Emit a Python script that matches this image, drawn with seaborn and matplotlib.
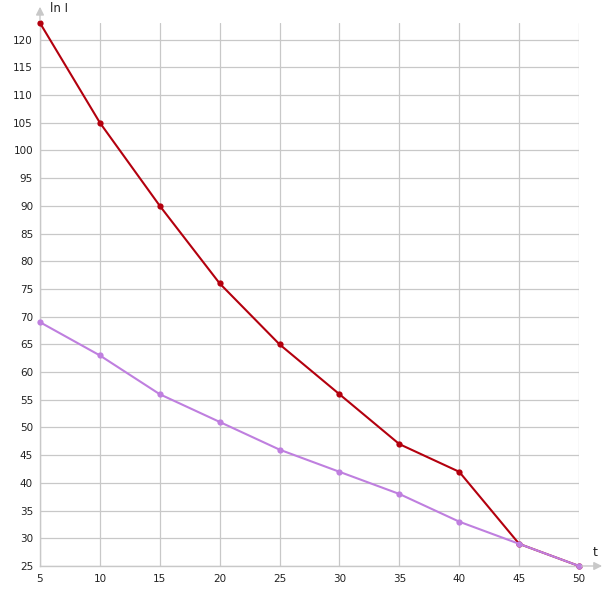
import numpy as np
import pandas as pd
import matplotlib
matplotlib.use("Agg")
import matplotlib.pyplot as plt
import seaborn as sns

t = [5, 10, 15, 20, 25, 30, 35, 40, 45, 50]
ln_i_red = [123, 105, 90, 76, 65, 56, 47, 42, 29, 25]
ln_i_purple = [69, 63, 56, 51, 46, 42, 38, 33, 29, 25]
x_ticks = [5, 10, 15, 20, 25, 30, 35, 40, 45, 50]
y_ticks = list(range(25, 121, 5))

RED = "#b3000e"
PURPLE = "#bf7fdf"
GRID = "#c8c8c8"

sns.set_style("white")
plt.rcParams["font.family"] = ["DejaVu Sans"]

df = pd.DataFrame({
    "t": t * 2,
    "v": ln_i_red + ln_i_purple,
    "s": ["red"] * len(t) + ["purple"] * len(t),
})

fig = plt.figure(figsize=(6.05, 6.05), dpi=100)
ax = fig.add_axes([40 / 605, 1 - 566 / 605, (579 - 40) / 605, (566 - 23) / 605])

sns.lineplot(data=df, x="t", y="v", hue="s", palette={"red": RED, "purple": PURPLE},
             marker="o", markersize=4.5, markeredgewidth=0, linewidth=1.5,
             legend=False, ax=ax, zorder=3)
for line in ax.lines:
    line.set_clip_on(False)

ax.set_xlim(5, 50)
ax.set_ylim(25, 123)
ax.set_xticks(x_ticks)
ax.set_yticks(y_ticks)
ax.grid(True, color=GRID, linewidth=0.9)
ax.set_axisbelow(True)
for side in ["top", "right"]:
    ax.spines[side].set_visible(False)
for side in ["left", "bottom"]:
    ax.spines[side].set_color(GRID)
    ax.spines[side].set_linewidth(1)
ax.tick_params(axis="both", length=0, labelsize=7.5, colors="#222222")
ax.tick_params(axis="x", pad=6)
ax.tick_params(axis="y", pad=5)
ax.set_xlabel("")
ax.set_ylabel("")

# axis arrows
ax.annotate("", xy=(0, 1.035), xytext=(0, 1.0), xycoords="axes fraction",
            arrowprops=dict(arrowstyle="-|>", color=GRID, lw=1, mutation_scale=12),
            annotation_clip=False)
ax.annotate("", xy=(1.048, 0), xytext=(1.0, 0), xycoords="axes fraction",
            arrowprops=dict(arrowstyle="-|>", color=GRID, lw=1, mutation_scale=12),
            annotation_clip=False)
fig.text(50 / 605, 1 - 8 / 605, "ln I", fontsize=8.5, va="center", ha="left", color="#222222")
fig.text(595 / 605, 1 - 552 / 605, "t", fontsize=9, va="center", ha="center", color="#222222")

fig.savefig("out.png", dpi=100)
